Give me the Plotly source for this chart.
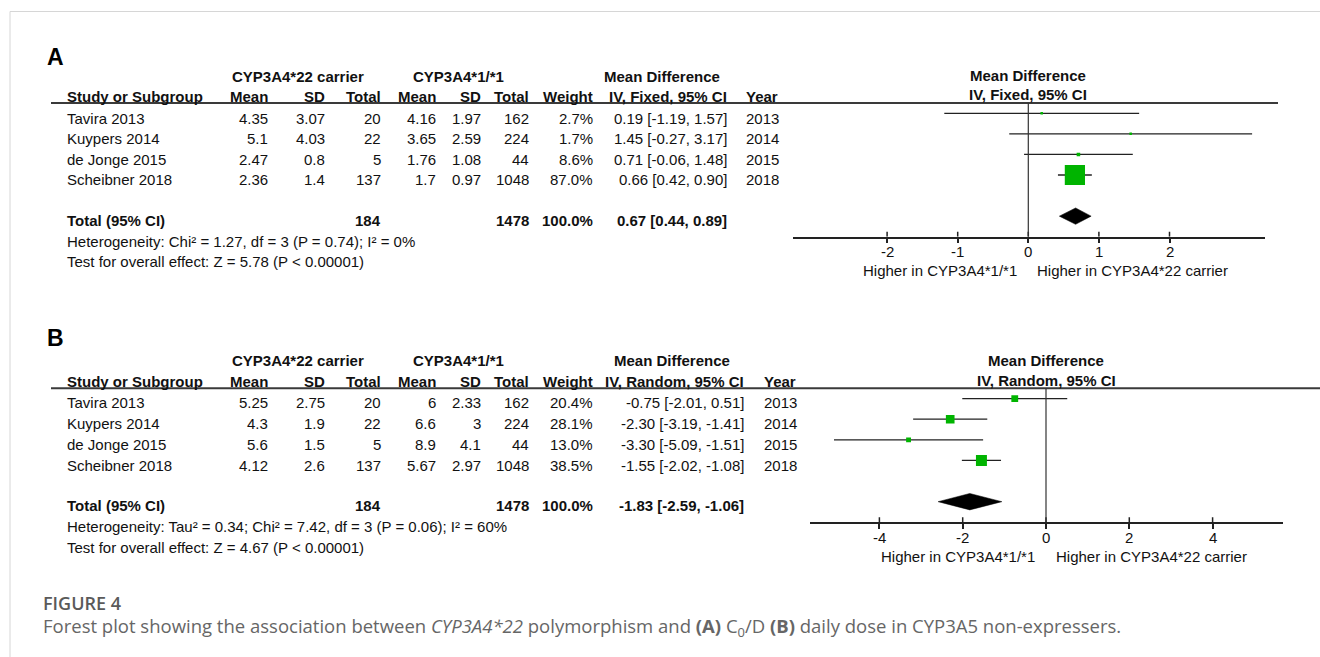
import plotly.graph_objects as go

W, H = 1320, 657

# ---------------- data ----------------
studies = ["Tavira 2013", "Kuypers 2014", "de Jonge 2015", "Scheibner 2018"]
years = [2013, 2014, 2015, 2018]

# Panel A: C0/D
a_car_mean = [4.35, 5.1, 2.47, 2.36]
a_car_sd = [3.07, 4.03, 0.8, 1.4]
a_car_n = [20, 22, 5, 137]
a_ref_mean = [4.16, 3.65, 1.76, 1.7]
a_ref_sd = [1.97, 2.59, 1.08, 0.97]
a_ref_n = [162, 224, 44, 1048]
a_weight = [2.7, 1.7, 8.6, 87.0]
a_md = [0.19, 1.45, 0.71, 0.66]
a_lo = [-1.19, -0.27, -0.06, 0.42]
a_hi = [1.57, 3.17, 1.48, 0.90]
a_total = (0.67, 0.44, 0.89)
a_ticks = [-2, -1, 0, 1, 2]
a_model = "IV, Fixed, 95% CI"
a_het = "Heterogeneity: Chi² = 1.27, df = 3 (P = 0.74); I² = 0%"
a_test = "Test for overall effect: Z = 5.78 (P < 0.00001)"

# Panel B: daily dose
b_car_mean = [5.25, 4.3, 5.6, 4.12]
b_car_sd = [2.75, 1.9, 1.5, 2.6]
b_car_n = [20, 22, 5, 137]
b_ref_mean = [6, 6.6, 8.9, 5.67]
b_ref_sd = [2.33, 3, 4.1, 2.97]
b_ref_n = [162, 224, 44, 1048]
b_weight = [20.4, 28.1, 13.0, 38.5]
b_md = [-0.75, -2.30, -3.30, -1.55]
b_lo = [-2.01, -3.19, -5.09, -2.02]
b_hi = [0.51, -1.41, -1.51, -1.08]
b_total = (-1.83, -2.59, -1.06)
b_ticks = [-4, -2, 0, 2, 4]
b_model = "IV, Random, 95% CI"
b_het = "Heterogeneity: Tau² = 0.34; Chi² = 7.42, df = 3 (P = 0.06); I² = 60%"
b_test = "Test for overall effect: Z = 4.67 (P < 0.00001)"

group_carrier = "CYP3A4*22 carrier"
group_ref = "CYP3A4*1/*1"
favours_left = "Higher in CYP3A4*1/*1"
favours_right = "Higher in CYP3A4*22 carrier"

# ---------------- layout helpers ----------------
FONT = "Liberation Sans, Arial, sans-serif"
FS = 15
INK = "#111111"
GREEN = "#00b400"


def px(x):
    return x / W


def py(y):
    return 1 - y / H


annotations = []
shapes = []


def txt(x, y, s, anchor="left", bold=False, size=FS, color=INK, family=FONT, weight=None,
        xref="paper", pad=1):
    f = dict(family=family, size=size, color=color)
    if weight is not None:
        f["weight"] = weight
    elif bold:
        f["weight"] = "bold"
    annotations.append(dict(
        x=px(x) if xref == "paper" else x, y=py(y), xref=xref, yref="paper", text=s,
        showarrow=False, xanchor=anchor, yanchor="middle", font=f, borderpad=pad,
    ))


def hline(x0, x1, y, width=1.0, color="#333333"):
    shapes.append(dict(type="line", xref="paper", yref="paper",
                       x0=px(x0), x1=px(x1), y0=py(y), y1=py(y),
                       line=dict(color=color, width=width)))


def g(v):
    return f"{v:g}"


fig = go.Figure()

panels = [
    dict(key="", label="A", car_mean=a_car_mean, car_sd=a_car_sd, car_n=a_car_n,
         ref_mean=a_ref_mean, ref_sd=a_ref_sd, ref_n=a_ref_n, weight=a_weight,
         md=a_md, lo=a_lo, hi=a_hi, total=a_total, ticks=a_ticks, model=a_model,
         het=a_het, test=a_test,
         label_y=57, grp_y=76, head_y=96, line_y=103, row_y=118.3, row_step=20.4,
         total_y=220, het_y=241.7, test_y=261.7,
         md_hdr_x=662, ci_right=729.3, year_left=744,
         zero=1028.3, unit=70.6, ax_lo=793, ax_hi=1265, axis_y=236.7,
         line_end=1278, lab_y=270.7, lab_l=1019.3, lab_r=1035),
    dict(key="2", label="B", car_mean=b_car_mean, car_sd=b_car_sd, car_n=b_car_n,
         ref_mean=b_ref_mean, ref_sd=b_ref_sd, ref_n=b_ref_n, weight=b_weight,
         md=b_md, lo=b_lo, hi=b_hi, total=b_total, ticks=b_ticks, model=b_model,
         het=b_het, test=b_test,
         label_y=338, grp_y=360.7, head_y=381.7, line_y=388.3, row_y=402.3, row_step=20.9,
         total_y=505, het_y=526.5, test_y=547.5,
         md_hdr_x=671.7, ci_right=746, year_left=762,
         zero=1046, unit=41.65, ax_lo=810, ax_hi=1283.3, axis_y=522.3,
         line_end=1320, lab_y=556.7, lab_l=1036.7, lab_r=1054),
]

COL_NAME = 65
COL_MEAN = 270
COL_SD = 327.3
COL_N = 383.3
COL_RMEAN = 438.3
COL_RSD = 482.7
COL_RN = 530.7
COL_W = 595

for P in panels:
    k = P["key"]
    xa, ya = "x" + k, "y" + k
    # ---- table text ----
    txt(55, P["label_y"], P["label"], anchor="center", bold=True, size=23, color="#000")
    txt(297.5, P["grp_y"], group_carrier, anchor="center", bold=True)
    txt(458, P["grp_y"], group_ref, anchor="center", bold=True)
    txt(P["md_hdr_x"], P["grp_y"], "Mean Difference", anchor="center", bold=True)
    hy = P["head_y"]
    txt(COL_NAME, hy, "Study or Subgroup", bold=True)
    for x, s in [(COL_MEAN, "Mean"), (COL_SD, "SD"), (COL_N, "Total"),
                 (COL_RMEAN, "Mean"), (COL_RSD, "SD"), (COL_RN, "Total"),
                 (COL_W, "Weight"), (P["ci_right"], P["model"])]:
        txt(x, hy, s, anchor="right", bold=True)
    txt(P["year_left"], hy, "Year", bold=True)
    hline(51, P["line_end"], P["line_y"], width=2, color="#3a3a3a")

    for i, name in enumerate(studies):
        y = P["row_y"] + i * P["row_step"]
        txt(COL_NAME, y, name)
        txt(COL_MEAN, y, g(P["car_mean"][i]), anchor="right")
        txt(COL_SD, y, g(P["car_sd"][i]), anchor="right")
        txt(COL_N, y, str(P["car_n"][i]), anchor="right")
        txt(COL_RMEAN, y, g(P["ref_mean"][i]), anchor="right")
        txt(COL_RSD, y, g(P["ref_sd"][i]), anchor="right")
        txt(COL_RN, y, str(P["ref_n"][i]), anchor="right")
        txt(COL_W, y, f"{P['weight'][i]:.1f}%", anchor="right")
        txt(P["ci_right"], y, f"{P['md'][i]:.2f} [{P['lo'][i]:.2f}, {P['hi'][i]:.2f}]", anchor="right")
        txt(P["year_left"], y, str(years[i]))

    ty = P["total_y"]
    tm, tl, th = P["total"]
    txt(COL_NAME, ty, "Total (95% CI)", bold=True)
    txt(COL_N, ty, str(sum(P["car_n"])), anchor="right", bold=True)
    txt(COL_RN, ty, str(sum(P["ref_n"])), anchor="right", bold=True)
    txt(COL_W, ty, f"{sum(P['weight']):.1f}%", anchor="right", bold=True)
    txt(P["ci_right"], ty, f"{tm:.2f} [{tl:.2f}, {th:.2f}]", anchor="right", bold=True)
    txt(COL_NAME, P["het_y"], P["het"])
    txt(COL_NAME, P["test_y"], P["test"])

    # ---- forest plot axes ----
    top, bot = P["line_y"], P["axis_y"]
    x_range = [(P["ax_lo"] - P["zero"]) / P["unit"], (P["ax_hi"] - P["zero"]) / P["unit"]]
    row_px = (bot - top) / 6.5
    fig.layout["xaxis" + k] = dict(
        domain=[px(P["ax_lo"]), px(P["ax_hi"])], range=x_range, anchor=ya,
        showline=True, linecolor="#222", linewidth=1.5, showgrid=False, zeroline=False,
        ticks="outside", ticklen=5, tickwidth=1.5, tickcolor="#222",
        tickvals=P["ticks"], showticklabels=False, fixedrange=True,
    )
    fig.layout["yaxis" + k] = dict(
        domain=[py(bot), py(top)], range=[7, 0.5], anchor=xa, visible=False,
        showgrid=False, zeroline=False, fixedrange=True,
    )

    # upper half of the crossing tick marks, and their labels on the data scale
    for t in P["ticks"]:
        shapes.append(dict(type="line", xref=xa, yref=ya, x0=t, x1=t, y0=7, y1=7 - 5 / row_px,
                           line=dict(color="#222", width=1.5)))
        txt(t, bot + 15, str(t), anchor="center", xref=xa)
    # line of no effect
    shapes.append(dict(type="line", xref=xa, yref=ya, x0=0, x1=0, y0=0.5, y1=7,
                       line=dict(color="#333", width=1.2)))

    rows = list(range(1, len(studies) + 1))
    sizes = [max(2.5, 0.71 * w ** 0.75) for w in P["weight"]]
    fig.add_trace(go.Scatter(
        x=P["md"], y=rows, xaxis=xa, yaxis=ya, mode="markers",
        marker=dict(symbol="square", size=sizes, color=GREEN, opacity=1, line=dict(width=0)),
        error_x=dict(type="data", symmetric=False,
                     array=[h - m for h, m in zip(P["hi"], P["md"])],
                     arrayminus=[m - l for m, l in zip(P["md"], P["lo"])],
                     width=0, thickness=1.3, color="#222"),
        showlegend=False, hoverinfo="skip",
    ))
    dh = 8.2 / row_px
    fig.add_trace(go.Scatter(
        x=[tl, tm, th, tm, tl], y=[6, 6 - dh, 6, 6 + dh, 6], xaxis=xa, yaxis=ya,
        mode="lines", fill="toself", fillcolor="#000", line=dict(color="#000", width=0.5),
        showlegend=False, hoverinfo="skip",
    ))

    # plot headers and favours labels
    txt(P["zero"], P["grp_y"] - 0.5, "Mean Difference", anchor="center", bold=True)
    txt(P["zero"], hy - 1, P["model"], anchor="center", bold=True)
    txt(P["lab_l"], P["lab_y"], favours_left, anchor="right")
    txt(P["lab_r"], P["lab_y"], favours_right, anchor="left")

# ---------------- caption and frame ----------------
CAP = "Open Sans, sans-serif"
txt(42, 602.5, "FIGURE 4", size=18, color="#5a5a5a", family=CAP, weight=600, pad=0)
txt(42, 627, "Forest plot showing the association between <i>CYP3A4*22</i> polymorphism and "
             "<b>(A)</b> C<sub>0</sub>/D <b>(B)</b> daily dose in CYP3A5 non-expressers.",
    size=18.5, color="#666666", family=CAP, pad=0)

shapes.append(dict(type="line", xref="paper", yref="paper", x0=px(10), x1=1, y0=py(11.5), y1=py(11.5),
                   line=dict(color="#d6d6d6", width=1)))
shapes.append(dict(type="line", xref="paper", yref="paper", x0=px(10), x1=px(10), y0=py(11.5), y1=0,
                   line=dict(color="#d6d6d6", width=1)))

fig.update_layout(
    width=W, height=H, margin=dict(l=0, r=0, t=0, b=0),
    paper_bgcolor="white", plot_bgcolor="white",
    annotations=annotations, shapes=shapes, showlegend=False,
)

fig.write_html("out.html", config={"displayModeBar": False})
